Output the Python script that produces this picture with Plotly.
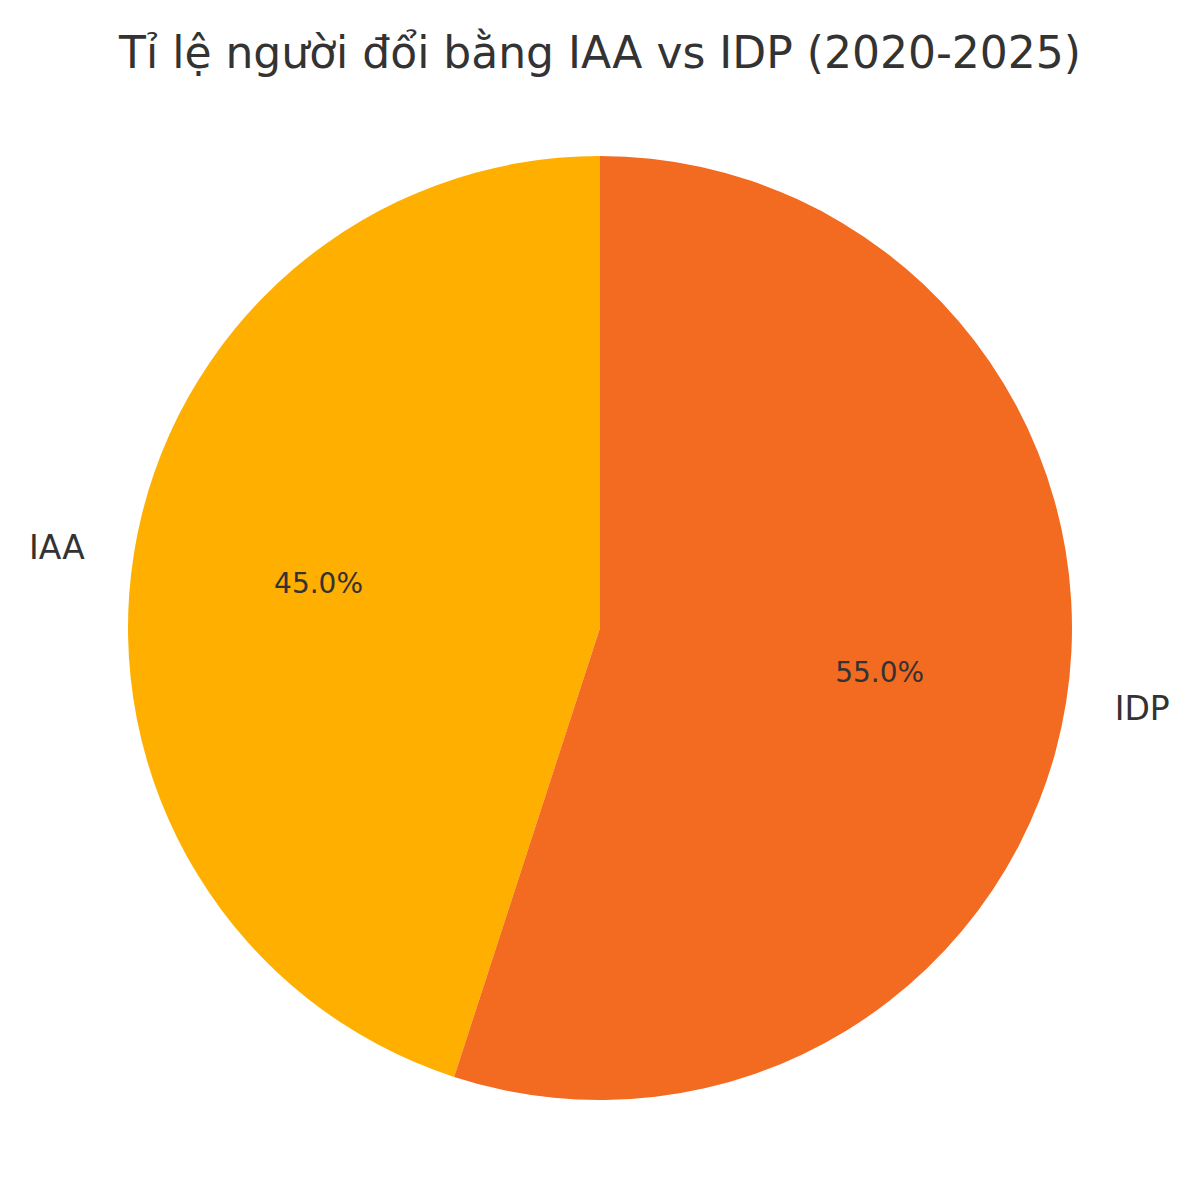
import plotly.graph_objects as go

# data
labels = ["IAA", "IDP"]
values = [45, 55]
colors = ["#FFAF00", "#F36A21"]

title = "Tỉ lệ người đổi bằng IAA vs IDP (2020-2025)"

W = H = 1200
OFF = 8                      # page body margin in the browser
cx, cy, r = 600 - OFF, 628 - OFF, 472   # pie centre / radius in px
r_lab = r * 1.1              # category labels around 1.1 radius
r_pct = r * 1.2              # plotly puts inside text ~0.5 radius -> 0.6 of the real pie

# first slice starts at 12 o'clock and runs counter-clockwise (matplotlib startangle=90)
rot = -360 * values[0] / sum(values)


def dom(rad):
    return dict(x=[(cx - rad) / W, (cx + rad) / W],
                y=[1 - (cy + rad) / H, 1 - (cy - rad) / H])


clear = ["rgba(0,0,0,0)"] * len(labels)
common = dict(labels=labels, values=values, sort=False,
              direction="counterclockwise", rotation=rot, showlegend=False)

fig = go.Figure()

# coloured wedges
fig.add_trace(go.Pie(
    **common,
    marker=dict(colors=colors, line=dict(width=0)),
    textinfo="none", domain=dom(r), hoverinfo="label+percent",
))

# transparent pie carrying the percent text
fig.add_trace(go.Pie(
    **common,
    marker=dict(colors=clear, line=dict(width=0)),
    texttemplate="%{percent:.1%}", textposition="inside",
    insidetextorientation="horizontal",
    textfont=dict(family="DejaVu Sans", size=28, color="#333333"),
    domain=dom(r_pct), hoverinfo="skip",
))

# transparent pie for the outside category labels
fig.add_trace(go.Pie(
    **common,
    marker=dict(colors=clear, line=dict(width=0)),
    texttemplate="%{label}", textposition="outside",
    textfont=dict(family="DejaVu Sans", size=33, color="#333333"),
    domain=dom(r_lab - 8), hoverinfo="skip",
))

fig.update_layout(
    width=W, height=H,
    paper_bgcolor="white",
    margin=dict(l=0, r=0, t=0, b=0),
    title=dict(text=title, x=cx / W, xanchor="center", y=1 - (53 - OFF) / H, yanchor="middle",
               font=dict(family="DejaVu Sans", size=44, color="#333333")),
)

fig.write_html("out.html")
